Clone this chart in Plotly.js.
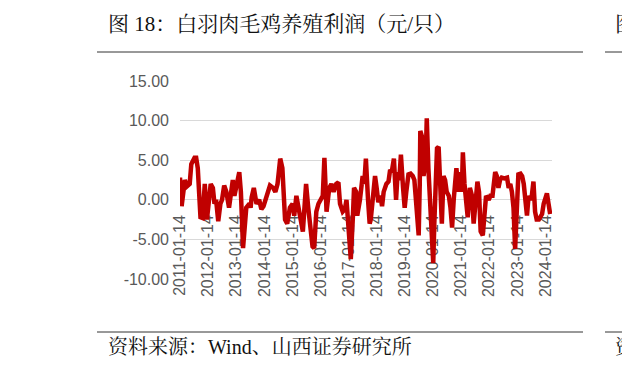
<!DOCTYPE html>
<html>
<head>
<meta charset="utf-8">
<script src="https://cdn.plot.ly/plotly-3.0.1.min.js"></script>
<style>html,body{margin:0;padding:0;background:#fff;}#chart{width:622px;height:370px;}</style>
</head>
<body>
<div id="chart"></div>
<script>
// ---- data ----
const dates = [
"2011-01-14","2011-02-04","2011-03-18","2011-04-15","2011-05-20","2011-06-10","2011-07-22","2011-08-12","2011-09-02","2011-10-07",
"2011-11-04","2011-12-02","2011-12-30","2012-02-17","2012-03-16","2012-04-06","2012-04-27","2012-05-25","2012-06-22","2012-07-13",
"2012-08-10","2012-09-07","2012-10-12","2012-11-30","2012-12-21","2013-02-22","2013-03-15","2013-04-12","2013-05-24","2013-07-05",
"2013-07-19","2013-08-02","2013-08-30","2013-10-04","2013-11-08","2013-12-06","2014-01-03","2014-02-14","2014-03-28","2014-05-09",
"2014-06-06","2014-07-04","2014-08-08","2014-09-05","2014-09-26","2014-10-10","2014-11-07","2014-12-12","2015-01-16","2015-02-06",
"2015-03-06","2015-04-03","2015-05-01","2015-05-29","2015-07-10","2015-08-07","2015-09-04","2015-10-02","2015-10-23","2015-11-20",
"2015-12-18","2016-01-15","2016-02-12","2016-03-04","2016-04-01","2016-05-06","2016-06-03","2016-07-01","2016-08-05","2016-09-02",
"2016-09-23","2016-10-28","2016-11-25","2016-12-16","2017-01-13","2017-02-10","2017-03-10","2017-03-24","2017-04-21","2017-05-05",
"2017-06-09","2017-07-14","2017-08-04","2017-08-25","2017-09-22","2017-10-13","2017-10-27","2017-11-24","2017-12-22","2018-01-12",
"2018-02-02","2018-03-02","2018-03-23","2018-04-13","2018-05-18","2018-06-15","2018-07-06","2018-07-27","2018-08-24","2018-09-21",
"2018-10-12","2018-11-02","2018-11-23","2018-12-21","2019-01-11","2019-02-01","2019-03-01","2019-03-29","2019-04-26","2019-05-17",
"2019-06-21","2019-07-12","2019-07-26","2019-08-02","2019-08-23","2019-09-13","2019-10-11","2019-10-25","2019-11-15","2019-12-06",
"2019-12-27","2020-01-17","2020-01-31","2020-02-14","2020-03-06","2020-03-27","2020-04-17","2020-05-08","2020-05-29","2020-06-19",
"2020-07-10","2020-08-07","2020-08-28","2020-09-18","2020-10-09","2020-11-13","2020-12-11","2021-01-01","2021-01-22","2021-02-05",
"2021-02-26","2021-03-19","2021-04-09","2021-05-07","2021-06-04","2021-06-25","2021-07-16","2021-08-13","2021-09-03","2021-09-24",
"2021-10-22","2021-11-12","2021-12-03","2022-01-07","2022-01-28","2022-02-25","2022-04-01","2022-04-22","2022-05-13","2022-06-03",
"2022-06-24","2022-07-29","2022-09-02","2022-09-23","2022-10-14","2022-11-04","2022-11-25","2022-12-16","2023-01-06","2023-01-27",
"2023-02-24","2023-03-17","2023-04-07","2023-04-28","2023-05-19","2023-06-09","2023-06-30","2023-07-21","2023-08-11","2023-09-01",
"2023-09-22","2023-10-20","2023-11-10","2023-12-01","2023-12-22","2024-01-12","2024-02-02","2024-02-23","2024-03-15"
];
const profit = [
2.8,-0.8,2.5,1.7,2.0,4.5,5.3,5.3,4.0,-2.2,
-2.3,2.0,-2.5,2.0,1.5,-0.5,0.0,-2.7,-0.5,0.0,
1.8,1.0,-1.0,2.5,0.5,3.5,1.0,-6.1,-1.0,-0.5,
-1.0,0.3,1.5,-0.5,0.0,-1.2,-0.8,0.5,1.8,1.5,
1.0,2.0,5.2,4.0,-0.5,-2.5,-3.0,-1.0,-0.5,-2.0,
0.5,-1.5,-2.5,-4.0,2.0,-1.0,-4.0,-5.9,-6.1,-1.5,
-0.5,0.0,0.5,5.3,-1.5,1.5,2.0,1.0,2.0,2.2,
-0.5,-1.5,-1.2,0.0,-3.0,-7.5,-2.0,1.5,1.0,-2.0,
0.0,3.0,2.0,5.2,0.0,-3.0,-2.5,0.0,3.0,1.5,
-0.3,0.5,-0.8,1.0,2.0,2.3,3.8,3.5,5.2,0.0,
3.5,2.5,5.7,1.5,-1.0,1.0,3.2,3.3,3.0,2.5,
-2.5,-4.5,2.0,8.7,8.0,3.0,5.0,10.3,4.0,-0.5,
-5.5,-8.0,-3.0,3.0,6.5,6.7,0.0,-3.0,3.0,2.5,
1.0,0.5,-1.0,-3.5,0.0,4.0,1.0,3.5,1.0,6.0,
2.0,-1.0,-2.2,1.5,0.5,-3.0,0.0,2.3,1.0,-4.0,
-4.5,-1.0,0.5,0.0,0.5,0.5,3.5,3.0,1.5,2.5,
2.8,2.7,2.8,1.5,2.0,1.0,-1.0,-6.2,-1.5,3.2,
3.3,3.0,2.0,-1.0,-2.0,0.5,0.0,0.5,2.3,-1.5,
-2.5,-2.5,-2.0,-1.8,-0.5,0.3,0.8,-0.5,-1.8
];
const tickDates = ["2011-01-14","2012-01-14","2013-01-14","2014-01-14","2015-01-14","2016-01-14","2017-01-14",
                   "2018-01-14","2019-01-14","2020-01-14","2021-01-14","2022-01-14","2023-01-14","2024-01-14"];
const yTicks = [-10, -5, 0, 5, 10, 15];
const yTickText = yTicks.map(v => v.toFixed(2));
const titleText = "图 18：白羽肉毛鸡养殖利润（元/只）";
const sourceText = "资料来源：Wind、山西证券研究所";

// ---- layout geometry (pixels) ----
const W = 622, H = 370;
const L = 180, R = 552, T = 81, B = 279;
const px = x => (x - L) / (R - L);
const py = y => (B - y) / (B - T);

const cjk = "'Liberation Serif', 'Noto Serif CJK SC', 'Noto Sans CJK SC', serif";
const tickFont = {family: "'Liberation Sans', Arial, sans-serif", size: 16, color: "#595959"};

const trace = {
  x: dates, y: profit, type: "scatter", mode: "lines",
  line: {color: "#C00000", width: 4.5, shape: "linear"},
  hoverinfo: "skip"
};

const layout = {
  width: W, height: H,
  margin: {l: L, r: W - R, t: T, b: H - B, pad: 0},
  paper_bgcolor: "#fff", plot_bgcolor: "#fff",
  showlegend: false,
  xaxis: {
    type: "date",
    range: ["2011-01-14", "2024-04-08"],
    tickvals: tickDates, ticktext: tickDates,
    tickangle: -90, tickfont: tickFont,
    ticks: "", showgrid: false, zeroline: false, showline: false,
    anchor: "free", position: py(200),
    ticklabelstandoff: 11,
    layer: "below traces"
  },
  yaxis: {
    range: [-10, 15], tickvals: yTicks, ticktext: yTickText,
    tickfont: tickFont, ticks: "",
    showgrid: true, gridcolor: "#d9d9d9", gridwidth: 1,
    zeroline: false, showline: false,
    ticklabelstandoff: 10
  },
  shapes: [
    {type: "line", xref: "paper", yref: "paper", x0: px(97), x1: px(583), y0: py(52), y1: py(52), line: {color: "#333", width: 1}},
    {type: "line", xref: "paper", yref: "paper", x0: px(97), x1: px(583), y0: py(332), y1: py(332), line: {color: "#333", width: 1}},
    {type: "line", xref: "paper", yref: "paper", x0: px(605), x1: px(640), y0: py(52), y1: py(52), line: {color: "#333", width: 1}},
    {type: "line", xref: "paper", yref: "paper", x0: px(605), x1: px(640), y0: py(332), y1: py(332), line: {color: "#333", width: 1}}
  ],
  annotations: [
    {text: titleText, xref: "paper", yref: "paper", x: px(106), y: py(24), xanchor: "left", yanchor: "middle",
     showarrow: false, font: {family: cjk, size: 21, color: "#111"}},
    {text: sourceText, xref: "paper", yref: "paper", x: px(106), y: py(347), xanchor: "left", yanchor: "middle",
     showarrow: false, font: {family: cjk, size: 20, color: "#111"}},
    {text: "图", xref: "paper", yref: "paper", x: px(613), y: py(24), xanchor: "left", yanchor: "middle",
     showarrow: false, font: {family: cjk, size: 21, color: "#111"}},
    {text: "资", xref: "paper", yref: "paper", x: px(613), y: py(347), xanchor: "left", yanchor: "middle",
     showarrow: false, font: {family: cjk, size: 20, color: "#111"}}
  ]
};

Plotly.newPlot("chart", [trace], layout, {displayModeBar: false, staticPlot: true});
</script>
</body>
</html>
